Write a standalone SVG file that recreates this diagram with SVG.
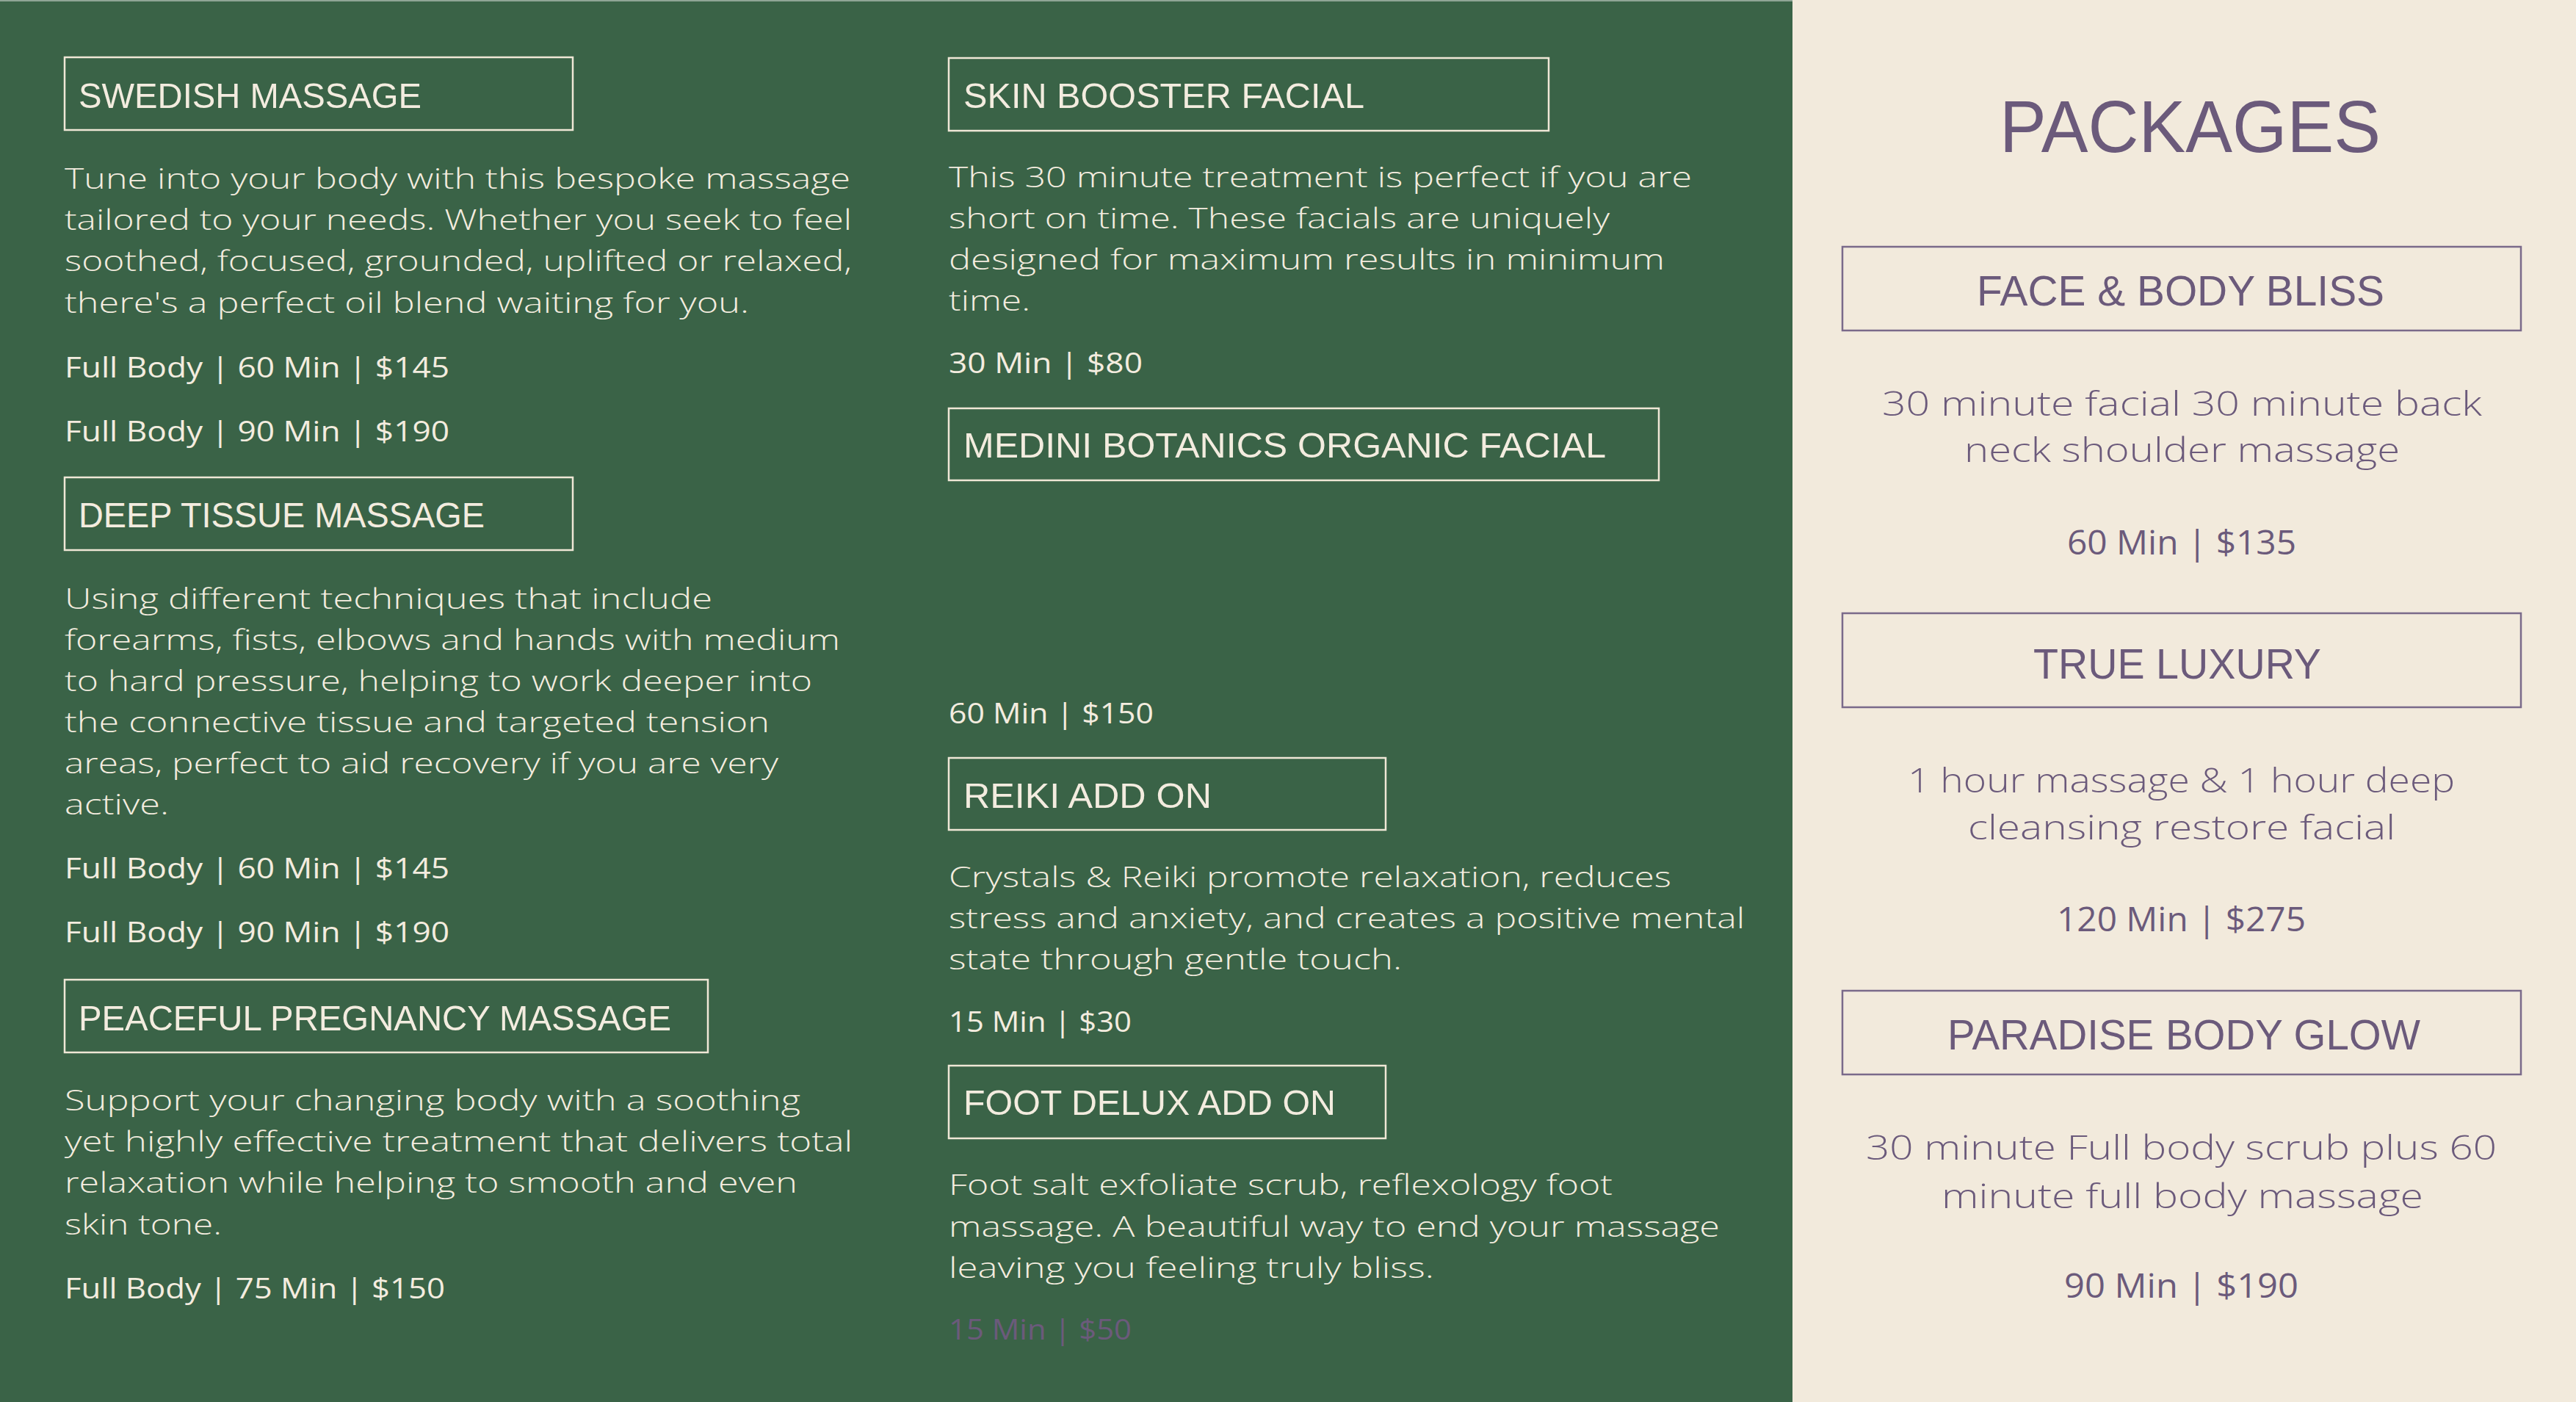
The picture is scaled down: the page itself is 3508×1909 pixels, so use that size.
<svg xmlns="http://www.w3.org/2000/svg" width="3508" height="1909" viewBox="0 0 3508 1909">
<style>
.box{fill:none;stroke:#EFE7D6;stroke-width:2.5}
.pbox{fill:none;stroke:#7A6A8A;stroke-width:2.5}
.ttl{font-family:"Liberation Sans",Arial,sans-serif;font-size:49px;fill:#F3ECDF}
.body{font-family:"Open Sans","Noto Sans",sans-serif;font-size:39px;font-weight:300;fill:#F3ECDF}
.price{font-family:"Open Sans","Noto Sans",sans-serif;font-size:39px;font-weight:500;fill:#F3ECDF}
.pprice{font-family:"Open Sans","Noto Sans",sans-serif;font-size:39px;font-weight:500;fill:#6B5A7B}
.head{font-family:"Liberation Sans",Arial,sans-serif;font-size:101px;fill:#6B5A7B}
.pttl{font-family:"Liberation Sans",Arial,sans-serif;font-size:58px;fill:#6B5A7B}
.pdesc{font-family:"Open Sans","Noto Sans",sans-serif;font-size:46px;font-weight:300;fill:#6B5A7B}
.pprc{font-family:"Open Sans","Noto Sans",sans-serif;font-size:46px;font-weight:500;fill:#6B5A7B}
</style>
<rect x="0" y="0" width="3508" height="1909" fill="#F2EADC"/>
<rect x="0" y="0" width="2441" height="1909" fill="#3A6347"/>
<rect x="0" y="0" width="2441" height="2" fill="#8FA596"/>

<g id="swedish-massage">
<rect class="box" x="88" y="78" width="692" height="99"/>
<text class="ttl" x="107" y="147" textLength="467" lengthAdjust="spacingAndGlyphs">SWEDISH MASSAGE</text>
<text class="body" x="88" y="257" textLength="1070" lengthAdjust="spacingAndGlyphs">Tune into your body with this bespoke massage</text>
<text class="body" x="88" y="313" textLength="1072" lengthAdjust="spacingAndGlyphs">tailored to your needs. Whether you seek to feel</text>
<text class="body" x="88" y="369" textLength="1072" lengthAdjust="spacingAndGlyphs">soothed, focused, grounded, uplifted or relaxed,</text>
<text class="body" x="88" y="426" textLength="932" lengthAdjust="spacingAndGlyphs">there's a perfect oil blend waiting for you.</text>
<text class="price" x="88" y="514" textLength="524" lengthAdjust="spacingAndGlyphs">Full Body | 60 Min | $145</text>
<text class="price" x="88" y="601" textLength="524" lengthAdjust="spacingAndGlyphs">Full Body | 90 Min | $190</text>
</g>

<g id="deep-tissue-massage">
<rect class="box" x="88" y="650" width="692" height="99"/>
<text class="ttl" x="107" y="718" textLength="553" lengthAdjust="spacingAndGlyphs">DEEP TISSUE MASSAGE</text>
<text class="body" x="88" y="829" textLength="882" lengthAdjust="spacingAndGlyphs">Using different techniques that include</text>
<text class="body" x="88" y="885" textLength="1056" lengthAdjust="spacingAndGlyphs">forearms, fists, elbows and hands with medium</text>
<text class="body" x="88" y="941" textLength="1018" lengthAdjust="spacingAndGlyphs">to hard pressure, helping to work deeper into</text>
<text class="body" x="88" y="997" textLength="960" lengthAdjust="spacingAndGlyphs">the connective tissue and targeted tension</text>
<text class="body" x="88" y="1053" textLength="972" lengthAdjust="spacingAndGlyphs">areas, perfect to aid recovery if you are very</text>
<text class="body" x="88" y="1109" textLength="142" lengthAdjust="spacingAndGlyphs">active.</text>
<text class="price" x="88" y="1196" textLength="524" lengthAdjust="spacingAndGlyphs">Full Body | 60 Min | $145</text>
<text class="price" x="88" y="1283" textLength="524" lengthAdjust="spacingAndGlyphs">Full Body | 90 Min | $190</text>
</g>

<g id="peaceful-pregnancy-massage">
<rect class="box" x="88" y="1334" width="876" height="99"/>
<text class="ttl" x="107" y="1403" textLength="807" lengthAdjust="spacingAndGlyphs">PEACEFUL PREGNANCY MASSAGE</text>
<text class="body" x="88" y="1512" textLength="1002" lengthAdjust="spacingAndGlyphs">Support your changing body with a soothing</text>
<text class="body" x="88" y="1568" textLength="1073" lengthAdjust="spacingAndGlyphs">yet highly effective treatment that delivers total</text>
<text class="body" x="88" y="1624" textLength="998" lengthAdjust="spacingAndGlyphs">relaxation while helping to smooth and even</text>
<text class="body" x="88" y="1681" textLength="214" lengthAdjust="spacingAndGlyphs">skin tone.</text>
<text class="price" x="88" y="1768" textLength="518" lengthAdjust="spacingAndGlyphs">Full Body | 75 Min | $150</text>
</g>

<g id="skin-booster-facial">
<rect class="box" x="1292" y="79" width="817" height="99"/>
<text class="ttl" x="1312" y="147" textLength="546" lengthAdjust="spacingAndGlyphs">SKIN BOOSTER FACIAL</text>
<text class="body" x="1292" y="255" textLength="1012" lengthAdjust="spacingAndGlyphs">This 30 minute treatment is perfect if you are</text>
<text class="body" x="1292" y="311" textLength="900" lengthAdjust="spacingAndGlyphs">short on time. These facials are uniquely</text>
<text class="body" x="1292" y="367" textLength="975" lengthAdjust="spacingAndGlyphs">designed for maximum results in minimum</text>
<text class="body" x="1292" y="423" textLength="111" lengthAdjust="spacingAndGlyphs">time.</text>
<text class="price" x="1292" y="508" textLength="264" lengthAdjust="spacingAndGlyphs">30 Min | $80</text>
</g>

<g id="medini-botanics-organic-facial">
<rect class="box" x="1292" y="556" width="967" height="98"/>
<text class="ttl" x="1312" y="623" textLength="875" lengthAdjust="spacingAndGlyphs">MEDINI BOTANICS ORGANIC FACIAL</text>
<text class="price" x="1292" y="985" textLength="279" lengthAdjust="spacingAndGlyphs">60 Min | $150</text>
</g>

<g id="reiki-add-on">
<rect class="box" x="1292" y="1032" width="595" height="98"/>
<text class="ttl" x="1312" y="1100" textLength="338" lengthAdjust="spacingAndGlyphs">REIKI ADD ON</text>
<text class="body" x="1292" y="1208" textLength="984" lengthAdjust="spacingAndGlyphs">Crystals &amp; Reiki promote relaxation, reduces</text>
<text class="body" x="1292" y="1264" textLength="1084" lengthAdjust="spacingAndGlyphs">stress and anxiety, and creates a positive mental</text>
<text class="body" x="1292" y="1320" textLength="617" lengthAdjust="spacingAndGlyphs">state through gentle touch.</text>
<text class="price" x="1292" y="1405" textLength="249" lengthAdjust="spacingAndGlyphs">15 Min | $30</text>
</g>

<g id="foot-delux-add-on">
<rect class="box" x="1292" y="1451" width="595" height="99"/>
<text class="ttl" x="1312" y="1518" textLength="507" lengthAdjust="spacingAndGlyphs">FOOT DELUX ADD ON</text>
<text class="body" x="1292" y="1627" textLength="904" lengthAdjust="spacingAndGlyphs">Foot salt exfoliate scrub, reflexology foot</text>
<text class="body" x="1292" y="1684" textLength="1050" lengthAdjust="spacingAndGlyphs">massage. A beautiful way to end your massage</text>
<text class="body" x="1292" y="1740" textLength="661" lengthAdjust="spacingAndGlyphs">leaving you feeling truly bliss.</text>
<text class="pprice" x="1292" y="1824" textLength="249" lengthAdjust="spacingAndGlyphs">15 Min | $50</text>
</g>

<g id="packages-heading">
<text class="head" x="2723" y="207" textLength="519" lengthAdjust="spacingAndGlyphs">PACKAGES</text>
</g>

<g id="face-body-bliss">
<rect class="pbox" x="2509" y="336" width="924" height="114"/>
<text class="pttl" x="2692" y="416" textLength="555" lengthAdjust="spacingAndGlyphs">FACE &amp; BODY BLISS</text>
<text class="pdesc" x="2563" y="566" textLength="817" lengthAdjust="spacingAndGlyphs">30 minute facial 30 minute back</text>
<text class="pdesc" x="2675" y="629" textLength="593" lengthAdjust="spacingAndGlyphs">neck shoulder massage</text>
<text class="pprc" x="2815" y="755" textLength="312" lengthAdjust="spacingAndGlyphs">60 Min | $135</text>
</g>

<g id="true-luxury">
<rect class="pbox" x="2509" y="835" width="924" height="128"/>
<text class="pttl" x="2769" y="924" textLength="392" lengthAdjust="spacingAndGlyphs">TRUE LUXURY</text>
<text class="pdesc" x="2598" y="1079" textLength="745" lengthAdjust="spacingAndGlyphs">1 hour massage &amp; 1 hour deep</text>
<text class="pdesc" x="2680" y="1143" textLength="582" lengthAdjust="spacingAndGlyphs">cleansing restore facial</text>
<text class="pprc" x="2801" y="1268" textLength="339" lengthAdjust="spacingAndGlyphs">120 Min | $275</text>
</g>

<g id="paradise-body-glow">
<rect class="pbox" x="2509" y="1349" width="924" height="114"/>
<text class="pttl" x="2652" y="1429" textLength="644" lengthAdjust="spacingAndGlyphs">PARADISE BODY GLOW</text>
<text class="pdesc" x="2541" y="1579" textLength="859" lengthAdjust="spacingAndGlyphs">30 minute Full body scrub plus 60</text>
<text class="pdesc" x="2644" y="1645" textLength="656" lengthAdjust="spacingAndGlyphs">minute full body massage</text>
<text class="pprc" x="2811" y="1767" textLength="319" lengthAdjust="spacingAndGlyphs">90 Min | $190</text>
</g>
</svg>
